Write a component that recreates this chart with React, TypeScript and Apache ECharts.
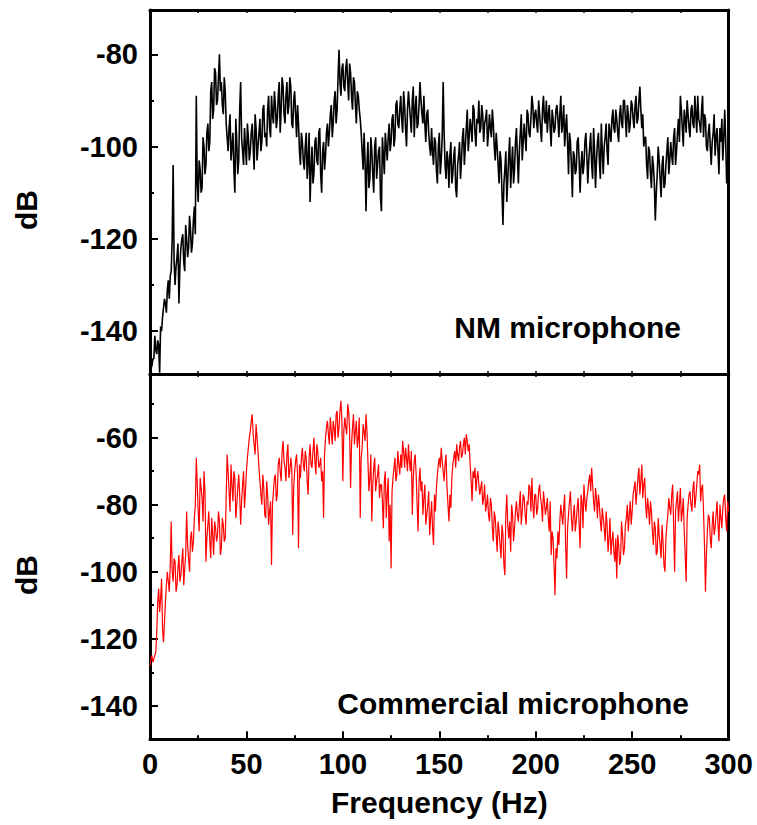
import React, { useEffect, useRef } from "react";
import * as echarts from "echarts";

// Frequency axis (Hz): whole-Hz samples, plus half-Hz samples in the *_HALF arrays
const FREQ_HZ: number[] = Array.from({ length: 301 }, (_, i) => i);

// NM microphone spectrum (dB) at whole Hz
const NM_DB: number[] = [
  -149, -147.5, -146, -144, -142, -149, -140, -135, -134, -131,
  -133, -127, -104, -130, -124, -134, -122, -119, -127, -120,
  -122, -118, -121, -113, -89, -112, -105, -109, -100, -104,
  -95, -99, -86, -92, -84, -90, -80, -86, -93, -88,
  -98, -96, -103, -97, -110, -99, -103, -86, -101, -96,
  -104, -98, -101, -95, -105, -96, -100, -94, -99, -91,
  -97, -92, -96, -89, -95, -91, -94, -86, -92, -87,
  -95, -86, -91, -87, -96, -88, -98, -95, -104, -99,
  -105, -97, -103, -112, -100, -106, -98, -104, -96, -110,
  -99, -102, -95, -97, -91, -95, -88, -92, -79, -89,
  -82, -88, -81, -90, -84, -92, -86, -95, -89, -94,
  -101, -97, -114, -99, -107, -101, -110, -98, -104, -100,
  -114, -102, -97, -103, -95, -99, -93, -98, -90, -96,
  -89, -97, -91, -100, -88, -94, -90, -98, -89, -95,
  -86, -93, -89, -99, -92, -100, -96, -104, -99, -108,
  -97, -103, -86, -104, -101, -109, -99, -106, -100, -111,
  -102, -107, -98, -104, -96, -101, -94, -99, -92, -100,
  -95, -97, -91, -99, -94, -100, -93, -98, -95, -103,
  -100, -108, -103, -117, -105, -112, -102, -109, -100, -105,
  -96, -108, -97, -103, -95, -101, -93, -98, -89, -96,
  -92, -97, -93, -99, -89, -95, -97, -91, -100, -94,
  -96, -91, -98, -89, -95, -100, -93, -106, -99, -111,
  -102, -105, -98, -110, -101, -104, -97, -108, -100, -104,
  -96, -109, -99, -103, -95, -106, -98, -101, -95, -99,
  -92, -97, -94, -99, -91, -96, -90, -98, -93, -95,
  -91, -96, -89, -94, -87, -96, -100, -98, -107, -101,
  -109, -104, -116, -106, -103, -111, -102, -108, -101, -106,
  -99, -104, -96, -101, -94, -89, -96, -92, -97, -93,
  -98, -91, -96, -93, -89, -95, -92, -98, -94, -101,
  -95, -104, -97, -102, -96, -106, -99, -103, -92, -108,
  -97,
];

// NM microphone spectrum (dB) at 0.5, 1.5, ... 299.5 Hz
const NM_DB_HALF: number[] = [
  -148, -146, -141, -145, -143, -139, -137, -133, -136, -129,
  -128, -120, -125, -126, -121, -126, -120, -125, -117, -124,
  -115, -123, -116, -119, -108, -103, -110, -98, -106, -97,
  -101, -88, -94, -83, -91, -85, -88, -91, -85, -95,
  -101, -93, -100, -105, -94, -106, -92, -98, -104, -100,
  -95, -103, -97, -100, -93, -103, -97, -101, -92, -98,
  -100, -89, -98, -93, -88, -96, -89, -97, -85, -93,
  -89, -93, -85, -95, -90, -93, -91, -101, -97, -103,
  -100, -107, -97, -105, -108, -99, -103, -97, -106, -101,
  -105, -97, -100, -93, -98, -90, -95, -85, -86, -83,
  -87, -83, -86, -82, -89, -85, -91, -88, -92, -97,
  -105, -103, -104, -109, -98, -106, -100, -107, -101, -111,
  -98, -106, -100, -98, -101, -94, -100, -91, -95, -92,
  -94, -88, -96, -92, -91, -97, -87, -92, -96, -91,
  -90, -95, -95, -93, -97, -102, -101, -98, -105, -100,
  -106, -98, -97, -107, -103, -102, -108, -102, -109, -104,
  -99, -103, -96, -100, -92, -98, -96, -91, -97, -94,
  -90, -96, -93, -95, -92, -97, -96, -92, -100, -97,
  -104, -101, -110, -108, -101, -107, -98, -104, -108, -99,
  -102, -101, -93, -99, -98, -92, -97, -94, -91, -93,
  -95, -90, -96, -92, -94, -90, -93, -96, -92, -97,
  -92, -94, -93, -97, -91, -96, -99, -97, -104, -101,
  -106, -99, -103, -104, -106, -99, -102, -103, -97, -107,
  -101, -103, -97, -107, -101, -100, -95, -104, -97, -94,
  -96, -92, -97, -93, -95, -90, -94, -91, -97, -90,
  -94, -91, -95, -90, -92, -93, -98, -104, -100, -106,
  -102, -108, -110, -100, -107, -104, -109, -104, -98, -103,
  -102, -98, -104, -97, -99, -92, -100, -94, -90, -96,
  -92, -95, -89, -97, -94, -97, -89, -93, -100, -97,
  -100, -99, -93, -98, -101, -96, -94, -98, -99, -104,
];

// Commercial microphone spectrum (dB) at whole Hz
const COM_DB: number[] = [
  -128, -125, -126, -124, -109, -112, -102, -121, -109, -100,
  -106, -85, -103, -97, -104, -95, -101, -93, -99, -82,
  -96, -90, -94, -84, -66, -82, -72, -78, -70, -97,
  -86, -91, -84, -95, -87, -89, -85, -93, -86, -90,
  -65, -76, -68, -79, -72, -80, -71, -86, -74, -81,
  -70, -63, -58, -53, -62, -56, -64, -73, -80, -75,
  -84, -77, -82, -98, -76, -71, -77, -66, -73, -61,
  -69, -65, -72, -66, -89, -70, -65, -93, -72, -63,
  -70, -66, -77, -62, -69, -60, -71, -64, -68, -73,
  -84, -60, -55, -62, -58, -55, -61, -52, -57, -49,
  -73, -54, -59, -52, -75, -57, -62, -55, -60, -84,
  -63, -58, -53, -67, -72, -85, -69, -76, -71, -78,
  -74, -87, -70, -77, -91, -99, -72, -66, -71, -68,
  -65, -61, -69, -66, -62, -70, -83, -67, -71, -88,
  -69, -73, -78, -86, -80, -89, -79, -92, -82, -71,
  -66, -63, -70, -68, -75, -85, -81, -68, -64, -62,
  -67, -61, -65, -60, -59, -64, -68, -79, -72, -76,
  -70, -77, -73, -78, -82, -77, -85, -80, -91, -84,
  -94, -88, -96, -89, -101, -77, -90, -94, -83, -87,
  -79, -85, -76, -82, -78, -86, -80, -75, -72, -84,
  -77, -81, -74, -80, -76, -83, -78, -88, -95, -90,
  -107, -96, -92, -80, -86, -77, -102, -83, -76, -88,
  -80, -85, -78, -93, -79, -74, -82, -76, -71, -69,
  -79, -75, -84, -80, -88, -84, -91, -86, -90, -95,
  -88, -97, -102, -92, -96, -89, -93, -84, -88, -79,
  -82, -75, -80, -72, -77, -68, -74, -80, -78, -86,
  -82, -92, -87, -94, -89, -96, -91, -100, -86, -78,
  -83, -74, -100, -79, -85, -75, -82, -88, -103, -80,
  -76, -82, -73, -78, -70, -68, -75, -82, -106, -88,
  -84, -93, -82, -87, -79, -91, -84, -81, -77, -88,
  -82,
];

// Commercial microphone spectrum (dB) at 0.5, 1.5, ... 299.5 Hz
const COM_DB_HALF: number[] = [
  -126, -127, -125, -118, -105, -108, -117, -115, -104, -103,
  -98, -100, -96, -106, -99, -103, -97, -104, -95, -92,
  -100, -88, -91, -80, -74, -88, -75, -85, -76, -90,
  -82, -96, -89, -85, -91, -82, -95, -84, -91, -78,
  -70, -82, -74, -70, -84, -75, -77, -79, -70, -76,
  -66, -60, -55, -59, -65, -60, -69, -77, -71, -83,
  -73, -86, -79, -80, -72, -79, -68, -70, -64, -67,
  -73, -62, -70, -69, -75, -67, -71, -68, -66, -68,
  -64, -73, -66, -68, -64, -67, -62, -69, -66, -70,
  -65, -57, -59, -54, -62, -57, -53, -60, -52, -55,
  -58, -57, -50, -58, -62, -53, -58, -63, -54, -66,
  -56, -61, -58, -76, -65, -74, -66, -73, -68, -74,
  -79, -73, -84, -72, -80, -76, -69, -73, -64, -71,
  -69, -64, -63, -70, -67, -64, -72, -65, -80, -73,
  -76, -83, -74, -83, -76, -84, -87, -77, -75, -68,
  -69, -67, -73, -65, -80, -77, -72, -66, -69, -65,
  -63, -66, -62, -65, -61, -62, -73, -70, -69, -72,
  -74, -75, -80, -74, -80, -83, -78, -87, -82, -89,
  -85, -92, -86, -98, -83, -86, -85, -80, -91, -82,
  -83, -80, -86, -77, -83, -79, -74, -82, -80, -77,
  -83, -76, -78, -85, -79, -81, -84, -79, -88, -98,
  -93, -88, -85, -83, -81, -92, -87, -79, -84, -83,
  -88, -81, -86, -77, -87, -79, -78, -73, -76, -74,
  -82, -78, -77, -85, -81, -87, -82, -94, -84, -91,
  -94, -90, -89, -98, -85, -95, -86, -80, -83, -86,
  -77, -73, -76, -69, -73, -78, -72, -84, -81, -79,
  -88, -85, -95, -84, -92, -86, -98, -90, -83, -81,
  -77, -86, -82, -76, -80, -85, -78, -95, -84, -77,
  -80, -75, -81, -74, -71, -79, -74, -92, -95, -83,
  -90, -86, -89, -83, -86, -80, -87, -78, -84, -79,
];

const TOP_Y_MAJOR = [-140, -120, -100, -80];
const TOP_Y_MINOR = [-130, -110, -90];
const BOT_Y_MAJOR = [-140, -120, -100, -80, -60];
const BOT_Y_MINOR = [-130, -110, -90, -70, -50];
const TOP_Y_RANGE = [-149.3, -70.4];
const BOT_Y_RANGE = [-150, -41];
const X_RANGE = [0, 300];

const LABEL_NM = "NM microphone";
const LABEL_COM = "Commercial microphone";
const X_TITLE = "Frequency (Hz)";
const Y_TITLE = "dB";

const FONT = "'Liberation Sans', Arial, Helvetica, sans-serif";

function buildSeries(whole: number[], half: number[]): number[][] {
  const out: number[][] = [];
  FREQ_HZ.forEach((f, i) => {
    out.push([f, whole[i]]);
    if (i < half.length) out.push([f + 0.5, half[i]]);
  });
  return out;
}

export default function App() {
  const ref = useRef<HTMLDivElement>(null);

  useEffect(() => {
    if (!ref.current) return;
    const chart = echarts.init(ref.current, undefined, { renderer: "svg" });

    const axisLine = { show: true, lineStyle: { color: "#000", width: 3 } };
    const xAx = (gridIndex: number, position: string, showLabel: boolean) => ({
      type: "value",
      gridIndex,
      position,
      min: X_RANGE[0],
      max: X_RANGE[1],
      interval: 50,
      axisLine,
      axisTick: showLabel
        ? { show: true, inside: true, length: 8, lineStyle: { color: "#000", width: 2 } }
        : { show: true, inside: true, length: 3, lineStyle: { color: "#000", width: 1.5 } },
      minorTick: showLabel
        ? { show: true, splitNumber: 2, length: 4, lineStyle: { color: "#000", width: 2 } }
        : { show: true, splitNumber: 2, length: 3, lineStyle: { color: "#000", width: 1.5 } },
      splitLine: { show: false },
      minorSplitLine: { show: false },
      axisLabel: showLabel
        ? {
            show: true,
            margin: 10,
            color: "#000",
            fontSize: 29,
            fontWeight: "bold",
            fontFamily: FONT,
          }
        : { show: false },
    });

    const yAxes = (gridIndex: number, range: number[], major: number[], minor: number[]) => [
      {
        type: "value",
        gridIndex,
        position: "left",
        min: range[0],
        max: range[1],
        axisLine,
        axisTick: {
          show: true,
          inside: true,
          length: 8,
          customValues: major,
          lineStyle: { color: "#000", width: 2 },
        },
        axisLabel: {
          show: true,
          customValues: major,
          margin: 12,
          color: "#000",
          fontSize: 29,
          fontWeight: "bold",
          fontFamily: FONT,
        },
        splitLine: { show: false },
      },
      {
        type: "value",
        gridIndex,
        position: "left",
        min: range[0],
        max: range[1],
        axisLine: { show: false },
        axisTick: {
          show: true,
          inside: true,
          length: 4,
          customValues: minor,
          lineStyle: { color: "#000", width: 2 },
        },
        axisLabel: { show: false },
        splitLine: { show: false },
      },
      {
        type: "value",
        gridIndex,
        position: "right",
        min: range[0],
        max: range[1],
        axisLine,
        axisTick: { show: false },
        axisLabel: { show: false },
        splitLine: { show: false },
      },
    ];

    const txt = (text: string, x: number, y: number, align: string, rot = 0) => ({
      type: "text",
      x,
      y,
      rotation: rot,
      style: {
        text,
        fill: "#000",
        fontSize: 30,
        fontWeight: "bold",
        fontFamily: FONT,
        align,
        verticalAlign: "middle",
      },
    });

    const option: any = {
      animation: false,
      backgroundColor: "#fff",
      grid: [
        { left: 150, top: 10, width: 578.6, height: 364 },
        { left: 150, top: 374, width: 578.6, height: 365.3 },
      ],
      xAxis: [
        xAx(0, "bottom", false),
        xAx(0, "top", false),
        xAx(1, "bottom", true),
        xAx(1, "top", false),
      ],
      yAxis: [
        ...yAxes(0, TOP_Y_RANGE, TOP_Y_MAJOR, TOP_Y_MINOR),
        ...yAxes(1, BOT_Y_RANGE, BOT_Y_MAJOR, BOT_Y_MINOR),
      ],
      series: [
        {
          type: "line",
          xAxisIndex: 0,
          yAxisIndex: 0,
          data: buildSeries(NM_DB, NM_DB_HALF),
          showSymbol: false,
          symbol: "none",
          clip: true,
          lineStyle: { color: "#000", width: 1.6 },
        },
        {
          type: "line",
          xAxisIndex: 2,
          yAxisIndex: 3,
          data: buildSeries(COM_DB, COM_DB_HALF),
          showSymbol: false,
          symbol: "none",
          clip: true,
          lineStyle: { color: "#ff0000", width: 1.2 },
        },
      ],
      graphic: [
        txt(Y_TITLE, 26, 210, "center", Math.PI / 2),
        txt(Y_TITLE, 26, 575, "center", Math.PI / 2),
        txt(X_TITLE, 439.3, 802, "center"),
        txt(LABEL_NM, 681, 327, "right"),
        txt(LABEL_COM, 689, 703, "right"),
      ],
    };

    chart.setOption(option);
    return () => chart.dispose();
  }, []);

  return (
    <div
      ref={ref}
      style={{ position: "absolute", left: 0, top: 0, width: 757, height: 825 }}
    />
  );
}
